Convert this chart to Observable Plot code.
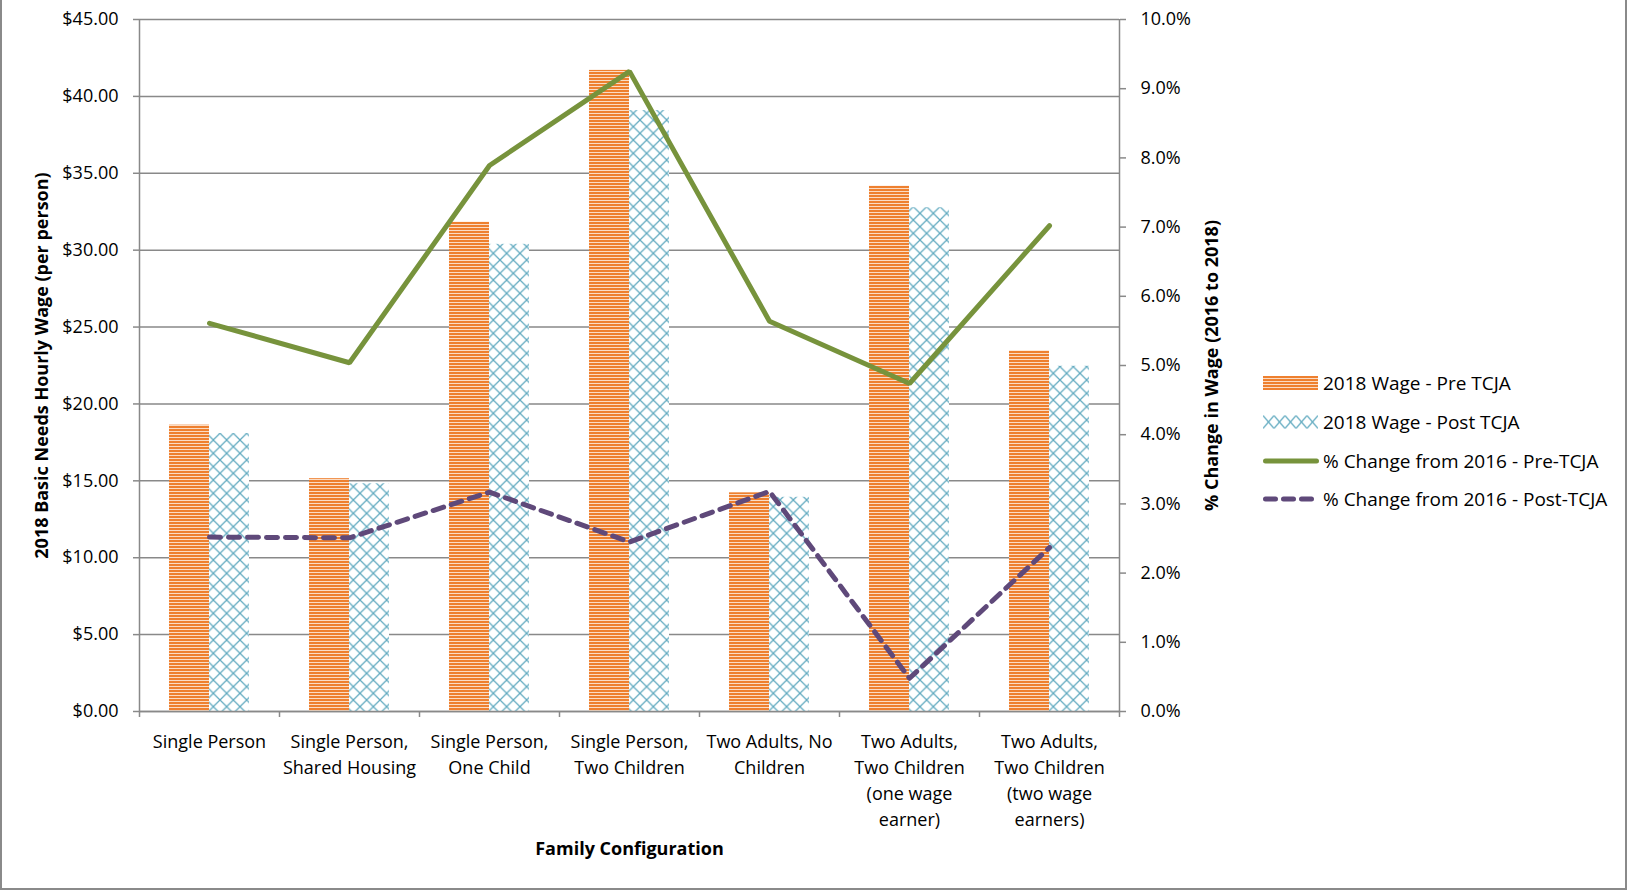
<!DOCTYPE html>
<html>
<head>
<meta charset="utf-8">
<script src="https://cdn.jsdelivr.net/npm/d3@7"></script>
<script src="https://cdn.jsdelivr.net/npm/@observablehq/plot@0.6"></script>
<style>
  html, body { margin: 0; padding: 0; background: #fff; }
  #wrap { position: relative; width: 1627px; height: 890px; overflow: hidden; font-family: "Open Sans", sans-serif; color: #000; }
  #border { position: absolute; left: 0; top: 0; width: 1627px; height: 890px; box-sizing: border-box;
            border-left: 2px solid #8a8a8a; border-right: 2px solid #8a8a8a; border-bottom: 2px solid #8a8a8a; pointer-events: none; }
  .leg { position: absolute; left: 1263px; height: 26px; display: flex; align-items: center; white-space: nowrap; font-size: 19px; }
  .leg svg { width: 56px; height: 26px; margin-right: 4px; flex: none; }
</style>
</head>
<body>
<div id="wrap"><div id="border"></div></div>
<script>
// ---- data ----
const categories = [
  "Single Person",
  "Single Person, Shared Housing",
  "Single Person, One Child",
  "Single Person, Two Children",
  "Two Adults, No Children",
  "Two Adults, Two Children (one wage earner)",
  "Two Adults, Two Children (two wage earners)"
];
const categoryLabels = [
  "Single Person",
  "Single Person,\nShared Housing",
  "Single Person,\nOne Child",
  "Single Person,\nTwo Children",
  "Two Adults, No\nChildren",
  "Two Adults,\nTwo Children\n(one wage\nearner)",
  "Two Adults,\nTwo Children\n(two wage\nearners)"
];
const wagePre  = [18.62, 15.14, 31.82, 41.69, 14.22, 34.16, 23.45];
const wagePost = [18.07, 14.81, 30.38, 39.08, 13.93, 32.76, 22.45];
const pctPre   = [5.61, 5.04, 7.89, 9.25, 5.64, 4.74, 7.02];
const pctPost  = [2.52, 2.51, 3.17, 2.45, 3.18, 0.48, 2.37];
const yTicks   = [0, 5, 10, 15, 20, 25, 30, 35, 40, 45];
const pctTicks = [0, 1, 2, 3, 4, 5, 6, 7, 8, 9, 10];
const legendLabels = [
  "2018 Wage - Pre TCJA",
  "2018 Wage - Post TCJA",
  "% Change from 2016 - Pre-TCJA",
  "% Change from 2016 - Post-TCJA"
];
const yTitle = "2018 Basic Needs Hourly Wage (per person)";
const y2Title = "% Change in Wage (2016 to 2018)";
const xTitle = "Family Configuration";

// ---- styles ----
const GRAY = "#898989";
const ORANGE = "#EE802F";
const ORANGE_LIGHT = "#FBDCC4";
const TEAL = "#5FA9BF";
const GREEN = "#77933C";
const PURPLE = "#5F497A";
const FONT = "Open Sans, sans-serif";
const pctToY = 45 / 10;
const pxToY = 45 / 692;

const stripeTile = `<rect width="4" height="3" fill="${ORANGE_LIGHT}"/><rect width="4" height="2" fill="${ORANGE}"/>`;
const defsSvg = `
<pattern id="stripes" patternUnits="userSpaceOnUse" width="4" height="3">${stripeTile}</pattern>
<pattern id="xhatch" patternUnits="userSpaceOnUse" width="13.333" height="13.333">
  <rect width="13.333" height="13.333" fill="#fff"/>
  <path d="M-2,-2L15.333,15.333M15.333,-2L-2,15.333" stroke="${TEAL}" stroke-width="1.25" fill="none"/>
</pattern>`;

function defsMark() {
  const g = document.createElementNS("http://www.w3.org/2000/svg", "defs");
  g.innerHTML = defsSvg;
  return g;
}

const rows = categories.map((c, i) => ({cat: c, label: categoryLabels[i], pre: wagePre[i], post: wagePost[i], pPre: pctPre[i], pPost: pctPost[i]}));

const chart = Plot.plot({
  width: 1627,
  height: 890,
  marginLeft: 139,
  marginRight: 508,
  marginTop: 19,
  marginBottom: 179,
  style: {fontFamily: FONT, fontSize: "18px", color: "#000", background: "transparent", overflow: "visible"},
  x: {type: "band", domain: categories, padding: 0, axis: null},
  y: {domain: [0, 45], axis: null},
  marks: [
    defsMark,
    Plot.ruleY(yTicks, {y: d => d, stroke: GRAY, strokeWidth: 1.5}),
    Plot.barY(rows, {x: "cat", y: "pre", fill: "url(#stripes)", insetLeft: 30, insetRight: 70}),
    Plot.barY(rows, {x: "cat", y: "post", fill: "url(#xhatch)", insetLeft: 70, insetRight: 30}),
    // axis lines & boundary ticks
    Plot.ruleX([categories[0]], {x: d => d, dx: -70, y1: -6 * pxToY, y2: 45, stroke: GRAY, strokeWidth: 1.5}),
    Plot.ruleX([categories[categories.length - 1]], {x: d => d, dx: 70, y1: -6 * pxToY, y2: 45, stroke: GRAY, strokeWidth: 1.5}),
    Plot.ruleX(categories.slice(1), {x: d => d, dx: -70, y1: -6 * pxToY, y2: 0, stroke: GRAY, strokeWidth: 1.5}),
    Plot.ruleY([0], {stroke: GRAY, strokeWidth: 1.5}),
    // lines
    Plot.line(rows, {x: "cat", y: d => d.pPre * pctToY, stroke: GREEN, strokeWidth: 5, strokeLinejoin: "miter", strokeLinecap: "round"}),
    Plot.line(rows, {x: "cat", y: d => d.pPost * pctToY, stroke: PURPLE, strokeWidth: 5, strokeDasharray: "11,8", strokeLinecap: "round", strokeLinejoin: "round"}),
    // axes
    Plot.axisY(yTicks, {anchor: "left", tickFormat: d => "$" + d.toFixed(2), tickSize: 6, tickPadding: 15, stroke: GRAY, strokeWidth: 1.5, fill: "#000", fontSize: 18, label: null}),
    Plot.axisY(pctTicks.map(p => p * pctToY), {anchor: "right", tickFormat: d => (d / pctToY).toFixed(1) + "%", tickSize: 6, tickPadding: 15, stroke: GRAY, strokeWidth: 1.5, fill: "#000", fontSize: 18, label: null}),
    Plot.text(rows, {x: "cat", y: () => 0, text: "label", dy: 18, lineAnchor: "top", lineHeight: 1.45, fontSize: 18, fill: "#000"}),
    // titles
    Plot.text([yTitle], {frameAnchor: "left", dx: -97, rotate: -90, textAnchor: "middle", lineAnchor: "middle", fontWeight: "bold", fontSize: 18, fill: "#000"}),
    Plot.text([y2Title], {frameAnchor: "right", dx: 93, rotate: -90, textAnchor: "middle", lineAnchor: "middle", fontWeight: "bold", fontSize: 18, fill: "#000"}),
    Plot.text([xTitle], {frameAnchor: "bottom", dy: 138, textAnchor: "middle", lineAnchor: "middle", fontWeight: "bold", fontSize: 18, fill: "#000"})
  ]
});

const wrap = document.getElementById("wrap");
chart.style.position = "absolute";
chart.style.left = "0";
chart.style.top = "0";
wrap.insertBefore(chart, wrap.firstChild);

// ---- legend ----
const swatches = [
  `<svg viewBox="0 0 56 26"><defs><pattern id="lstripes" patternUnits="userSpaceOnUse" width="4" height="3" y="6">${stripeTile}</pattern></defs><rect x="0" y="6" width="55" height="14" fill="url(#lstripes)"/></svg>`,
  `<svg viewBox="0 0 56 26"><defs><pattern id="lxhatch" patternUnits="userSpaceOnUse" width="11" height="13" x="0" y="6.5"><rect width="11" height="13" fill="#fff"/><path d="M-2,-2.36L13,15.36M13,-2.36L-2,15.36" stroke="${TEAL}" stroke-width="1.25" fill="none"/></pattern></defs><rect x="0" y="6.5" width="55" height="13" fill="url(#lxhatch)"/></svg>`,
  `<svg viewBox="0 0 56 26"><line x1="2.5" y1="13" x2="53.5" y2="13" stroke="${GREEN}" stroke-width="5" stroke-linecap="round"/></svg>`,
  `<svg viewBox="0 0 56 26"><line x1="2.5" y1="13" x2="53.5" y2="13" stroke="${PURPLE}" stroke-width="5" stroke-linecap="round" stroke-dasharray="10,8"/></svg>`
];
const legendCenters = [383, 422, 460.5, 499];
legendLabels.forEach((lab, i) => {
  const d = document.createElement("div");
  d.className = "leg";
  d.style.top = (legendCenters[i] - 13) + "px";
  d.innerHTML = swatches[i] + `<span>${lab}</span>`;
  wrap.appendChild(d);
});
</script>
</body>
</html>
